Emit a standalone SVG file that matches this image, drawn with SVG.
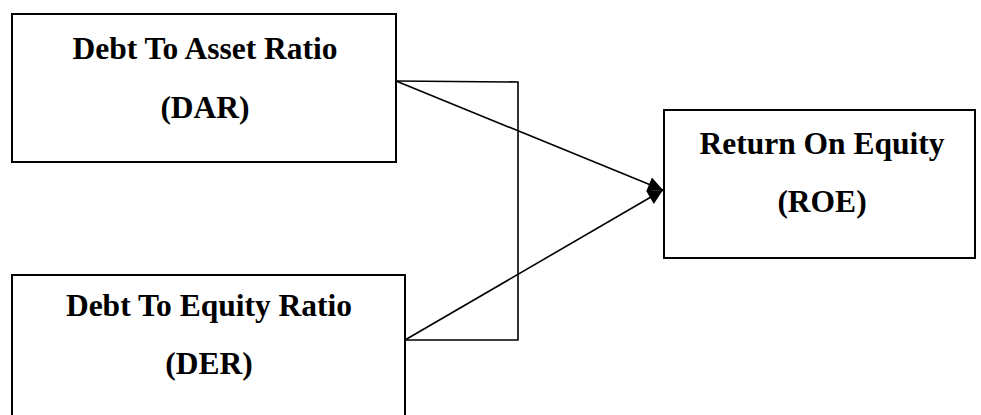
<svg xmlns="http://www.w3.org/2000/svg" width="981" height="415" viewBox="0 0 981 415">
<style>
.box{fill:#fff;stroke:#000;stroke-width:2}
.t{font-family:"Liberation Serif","Times New Roman",serif;font-weight:bold;font-size:31.5px;text-anchor:middle;fill:#000}
.c{fill:none;stroke:#000;stroke-width:1.6}
</style>
<defs>
<marker id="ah" viewBox="0 0 10 10" refX="10" refY="5" markerWidth="16" markerHeight="15" markerUnits="userSpaceOnUse" orient="auto">
<path d="M0,0 L10,5 L0,10 z" fill="#000"/>
</marker>
</defs>
<g id="dar">
<rect class="box" x="12" y="14" width="384" height="148"/>
<text class="t" x="205" y="59">Debt To Asset Ratio</text>
<text class="t" x="205" y="118">(DAR)</text>
</g>
<g id="der">
<rect class="box" x="12" y="275" width="393" height="160"/>
<text class="t" x="209" y="316">Debt To Equity Ratio</text>
<text class="t" x="209" y="374">(DER)</text>
</g>
<g id="roe">
<rect class="box" x="664" y="110" width="311" height="148"/>
<text class="t" x="822" y="154">Return On Equity</text>
<text class="t" x="822" y="212">(ROE)</text>
</g>
<g id="connectors">
<path class="c" d="M396,81 L518,82 L518,340 L405,340"/>
<line class="c" x1="396" y1="81" x2="663" y2="190" marker-end="url(#ah)"/>
<line class="c" x1="405" y1="340" x2="663" y2="190" marker-end="url(#ah)"/>
</g>
</svg>
